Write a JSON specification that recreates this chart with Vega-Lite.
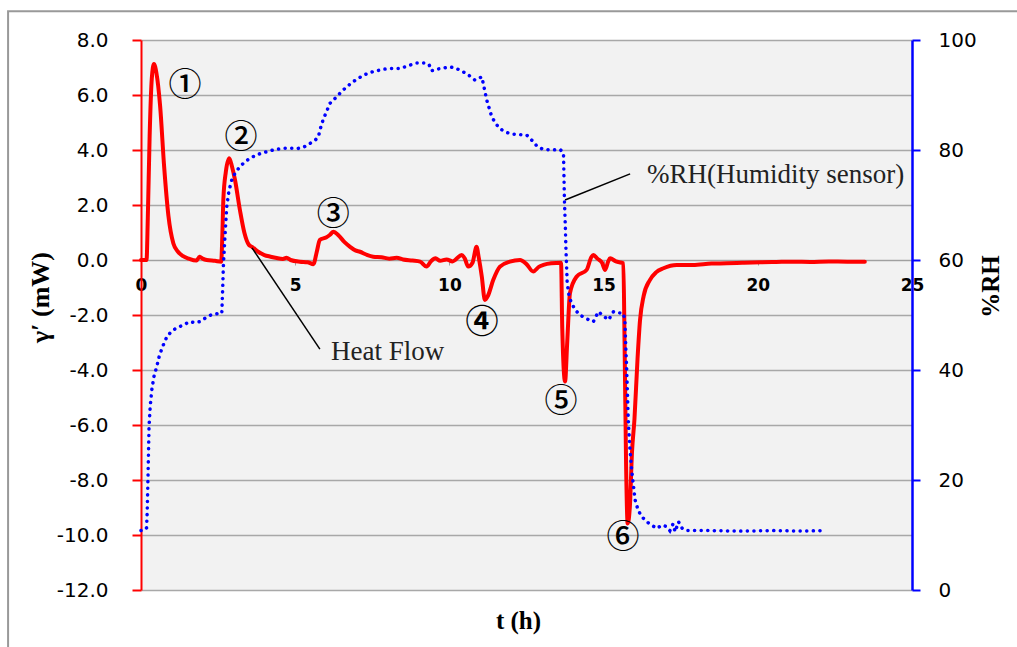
{
  "$schema": "https://vega.github.io/schema/vega-lite/v6.json",
  "width": 771,
  "height": 550,
  "autosize": {"type": "none"},
  "padding": {"left": 141, "top": 40, "right": 105, "bottom": 57},
  "background": "white",
  "config": {
    "view": {"fill": "#f2f2f2", "stroke": null},
    "axis": {"labelColor": "black", "titleColor": "black"}
  },
  "encoding": {
    "x": {
      "field": "t",
      "type": "quantitative",
      "scale": {"domain": [0, 25], "nice": false, "zero": false},
      "axis": {
        "orient": "bottom",
        "offset": -330,
        "values": [0, 5, 10, 15, 20, 25],
        "format": "d",
        "labelFont": "DejaVu Sans",
        "labelFontWeight": "bold",
        "labelFontSize": 17,
        "labelFlush": false,
        "labelOverlap": false,
        "labelPadding": 12,
        "tickSize": 5,
        "tickColor": "#a0a0a0",
        "domainColor": "#a0a0a0",
        "grid": false,
        "title": "t (h)",
        "titleFont": "Liberation Serif",
        "titleFontSize": 25,
        "titleFontWeight": "bold",
        "titleX": 377,
        "titleY": 360,
        "titleAlign": "center",
        "titleBaseline": "middle"
      }
    }
  },
  "layer": [
    {
      "encoding": {
        "y": {
          "field": "v",
          "type": "quantitative",
          "scale": {"domain": [-12, 8], "nice": false, "zero": false},
          "axis": {
            "orient": "left",
            "values": [-12, -10, -8, -6, -4, -2, 0, 2, 4, 6, 8],
            "labelExpr": "replace(format(datum.value, '.1f'), '−', '-')",
            "labelFont": "DejaVu Sans",
            "labelFontSize": 20,
            "labelPadding": 24,
            "tickSize": 9,
            "tickColor": "#ff0000",
            "tickWidth": 2,
            "domainColor": "#ff0000",
            "domainWidth": 2,
            "grid": true,
            "gridColor": "#a8a8a8",
            "gridWidth": 1.5,
            "title": "γ′ (mW)",
            "titleFont": "Liberation Serif",
            "titleFontSize": 26,
            "titleFontWeight": "bold",
            "titleAngle": 270,
            "titleX": -101,
            "titleY": 257,
            "titleAlign": "center",
            "titleBaseline": "middle"
          }
        }
      },
      "layer": [
        {
          "data": {"values": [{"t": -4.31, "t2": 40, "v": -20, "v2": 9.05}]},
          "mark": {"type": "rect", "fill": null, "stroke": "#999999", "strokeWidth": 2, "clip": false},
          "encoding": {"x2": {"field": "t2"}, "y2": {"field": "v2"}}
        },
        {
          "data": {"values": [
            {"t": 0, "v": 0}, {"t": 0.18, "v": 0}, {"t": 0.22, "v": 1.5}, {"t": 0.28, "v": 4.5}, {"t": 0.35, "v": 6.6},
            {"t": 0.42, "v": 7.13}, {"t": 0.5, "v": 6.8}, {"t": 0.62, "v": 5.6}, {"t": 0.75, "v": 3.4}, {"t": 0.89, "v": 1.6},
            {"t": 1.05, "v": 0.6}, {"t": 1.2, "v": 0.3}, {"t": 1.35, "v": 0.15}, {"t": 1.55, "v": 0.05}, {"t": 1.8, "v": -0.02},
            {"t": 1.9, "v": 0.12}, {"t": 2.0, "v": 0.05}, {"t": 2.13, "v": 0}, {"t": 2.4, "v": -0.03}, {"t": 2.6, "v": -0.06},
            {"t": 2.64, "v": 1.0}, {"t": 2.67, "v": 2.2}, {"t": 2.75, "v": 3.2}, {"t": 2.86, "v": 3.7}, {"t": 2.95, "v": 3.4},
            {"t": 3.05, "v": 2.9}, {"t": 3.21, "v": 1.8}, {"t": 3.35, "v": 1.0}, {"t": 3.5, "v": 0.55}, {"t": 3.6, "v": 0.48},
            {"t": 3.8, "v": 0.3}, {"t": 4.0, "v": 0.18}, {"t": 4.2, "v": 0.12}, {"t": 4.4, "v": 0.07}, {"t": 4.6, "v": 0.04},
            {"t": 4.72, "v": 0.08}, {"t": 4.85, "v": 0.0}, {"t": 5.15, "v": -0.06}, {"t": 5.4, "v": -0.08}, {"t": 5.59, "v": -0.15},
            {"t": 5.7, "v": 0.3}, {"t": 5.8, "v": 0.73}, {"t": 6.0, "v": 0.82}, {"t": 6.13, "v": 0.92}, {"t": 6.24, "v": 1.03},
            {"t": 6.4, "v": 0.9}, {"t": 6.6, "v": 0.65}, {"t": 6.78, "v": 0.48}, {"t": 6.95, "v": 0.35}, {"t": 7.1, "v": 0.3},
            {"t": 7.3, "v": 0.2}, {"t": 7.53, "v": 0.12}, {"t": 7.8, "v": 0.1}, {"t": 8.05, "v": 0.05}, {"t": 8.29, "v": 0.08},
            {"t": 8.5, "v": 0.02}, {"t": 8.8, "v": -0.02}, {"t": 9.05, "v": -0.06}, {"t": 9.26, "v": -0.24}, {"t": 9.4, "v": -0.05},
            {"t": 9.55, "v": 0.06}, {"t": 9.7, "v": -0.03}, {"t": 9.91, "v": 0.02}, {"t": 10.1, "v": -0.05}, {"t": 10.4, "v": 0.18},
            {"t": 10.5, "v": 0.05}, {"t": 10.61, "v": -0.24}, {"t": 10.75, "v": -0.1}, {"t": 10.88, "v": 0.48}, {"t": 10.95, "v": 0.1},
            {"t": 11.05, "v": -0.6}, {"t": 11.15, "v": -1.45}, {"t": 11.25, "v": -1.3}, {"t": 11.42, "v": -0.73}, {"t": 11.64, "v": -0.24},
            {"t": 11.96, "v": -0.06}, {"t": 12.29, "v": 0}, {"t": 12.5, "v": -0.15}, {"t": 12.72, "v": -0.42}, {"t": 12.9, "v": -0.25},
            {"t": 13.05, "v": -0.18}, {"t": 13.3, "v": -0.12}, {"t": 13.62, "v": -0.1}, {"t": 13.66, "v": -2.5}, {"t": 13.75, "v": -4.42},
            {"t": 13.82, "v": -3.0}, {"t": 13.91, "v": -1.2}, {"t": 14.13, "v": -0.6}, {"t": 14.45, "v": -0.36}, {"t": 14.6, "v": 0.1},
            {"t": 14.67, "v": 0.18}, {"t": 14.8, "v": 0.05}, {"t": 14.95, "v": -0.1}, {"t": 15.05, "v": -0.36}, {"t": 15.15, "v": -0.05},
            {"t": 15.21, "v": 0.06}, {"t": 15.4, "v": -0.05}, {"t": 15.64, "v": -0.12}, {"t": 15.68, "v": -3.0}, {"t": 15.73, "v": -7.5},
            {"t": 15.78, "v": -9.58}, {"t": 15.85, "v": -9.0}, {"t": 15.92, "v": -7.0}, {"t": 16.0, "v": -5.8}, {"t": 16.1, "v": -3.6},
            {"t": 16.18, "v": -2.2}, {"t": 16.3, "v": -1.3}, {"t": 16.5, "v": -0.73}, {"t": 16.7, "v": -0.45}, {"t": 16.94, "v": -0.3},
            {"t": 17.37, "v": -0.18}, {"t": 17.9, "v": -0.18}, {"t": 18.5, "v": -0.13}, {"t": 18.99, "v": -0.12}, {"t": 19.5, "v": -0.1},
            {"t": 20.1, "v": -0.08}, {"t": 20.6, "v": -0.07}, {"t": 21.15, "v": -0.06}, {"t": 21.7, "v": -0.07}, {"t": 22.3, "v": -0.05},
            {"t": 22.9, "v": -0.06}, {"t": 23.47, "v": -0.06}
          ]},
          "mark": {"type": "line", "color": "#ff0000", "strokeWidth": 4, "strokeJoin": "round", "strokeCap": "round", "interpolate": "monotone"}
        },
        {
          "data": {"values": [
            {"t": 3.6, "v": 0.44, "t2": 5.8, "v2": -3.24},
            {"t": 15.86, "v": 3.13, "t2": 13.75, "v2": 2.18}
          ]},
          "mark": {"type": "rule", "color": "black", "strokeWidth": 1.5},
          "encoding": {"x2": {"field": "t2"}, "y2": {"field": "v2"}}
        },
        {
          "data": {"values": [
            {"t": 1.43, "v": 6.33, "label": "①"},
            {"t": 3.24, "v": 4.44, "label": "②"},
            {"t": 6.23, "v": 1.64, "label": "③"},
            {"t": 13.62, "v": -5.16, "label": "⑤"},
            {"t": 15.63, "v": -10.1, "label": "⑥"}
          ]},
          "mark": {"type": "text", "font": "Noto Sans CJK JP", "fontSize": 33, "fontWeight": 500, "align": "center", "baseline": "middle", "color": "black"},
          "encoding": {"text": {"field": "label"}}
        },
        {
          "data": {"values": [
            {"t": 11.06, "v": -2.29, "label": "④"}
          ]},
          "mark": {"type": "text", "font": "Noto Sans CJK JP", "fontSize": 33, "fontWeight": "bold", "align": "center", "baseline": "middle", "color": "black"},
          "encoding": {"text": {"field": "label"}}
        },
        {
          "data": {"values": [
            {"t": 6.16, "v": -3.35, "label": "Heat Flow"},
            {"t": 16.41, "v": 3.1, "label": "%RH(Humidity  sensor)"}
          ]},
          "mark": {"type": "text", "font": "Liberation Serif", "fontSize": 27, "align": "left", "baseline": "middle", "color": "#222222"},
          "encoding": {"text": {"field": "label"}}
        }
      ]
    },
    {
      "data": {"values": [
        {"t": 0, "rh": 10.8}, {"t": 0.12, "rh": 10.9}, {"t": 0.18, "rh": 11.3}, {"t": 0.2, "rh": 14}, {"t": 0.22, "rh": 18.8},
        {"t": 0.24, "rh": 24}, {"t": 0.26, "rh": 29.7}, {"t": 0.3, "rh": 33.5}, {"t": 0.35, "rh": 36.4}, {"t": 0.42, "rh": 38.8},
        {"t": 0.51, "rh": 40.6}, {"t": 0.6, "rh": 42.7}, {"t": 0.72, "rh": 44.5}, {"t": 0.85, "rh": 46.2}, {"t": 1.05, "rh": 47.3},
        {"t": 1.3, "rh": 48.0}, {"t": 1.59, "rh": 48.8}, {"t": 1.75, "rh": 48.6}, {"t": 1.91, "rh": 48.8}, {"t": 2.1, "rh": 49.5},
        {"t": 2.3, "rh": 50.1}, {"t": 2.56, "rh": 50.3}, {"t": 2.62, "rh": 50.3}, {"t": 2.65, "rh": 55}, {"t": 2.67, "rh": 58.8},
        {"t": 2.72, "rh": 64}, {"t": 2.78, "rh": 69.7}, {"t": 2.85, "rh": 72.5}, {"t": 2.94, "rh": 74.5}, {"t": 3.05, "rh": 75.8},
        {"t": 3.21, "rh": 77}, {"t": 3.4, "rh": 78}, {"t": 3.64, "rh": 78.8}, {"t": 3.85, "rh": 79.3}, {"t": 4.08, "rh": 79.7},
        {"t": 4.35, "rh": 80.1}, {"t": 4.61, "rh": 80.3}, {"t": 4.85, "rh": 80.3}, {"t": 5.1, "rh": 80.3}, {"t": 5.3, "rh": 80.6},
        {"t": 5.48, "rh": 81.2}, {"t": 5.65, "rh": 81.8}, {"t": 5.75, "rh": 82.4}, {"t": 5.8, "rh": 83.5}, {"t": 5.86, "rh": 84.8},
        {"t": 6.0, "rh": 86.8}, {"t": 6.13, "rh": 88.5}, {"t": 6.35, "rh": 89.7}, {"t": 6.5, "rh": 90.6}, {"t": 6.67, "rh": 91.5},
        {"t": 6.9, "rh": 92.5}, {"t": 7.21, "rh": 93.6}, {"t": 7.5, "rh": 94.2}, {"t": 7.86, "rh": 94.7}, {"t": 8.1, "rh": 94.8},
        {"t": 8.4, "rh": 94.8}, {"t": 8.7, "rh": 95.4}, {"t": 8.94, "rh": 95.8}, {"t": 9.26, "rh": 95.8}, {"t": 9.35, "rh": 95.4},
        {"t": 9.42, "rh": 94.4}, {"t": 9.6, "rh": 94.7}, {"t": 10.02, "rh": 95.1}, {"t": 10.2, "rh": 94.9}, {"t": 10.45, "rh": 94.2},
        {"t": 10.65, "rh": 93.5}, {"t": 10.83, "rh": 92.7}, {"t": 11.05, "rh": 93.3}, {"t": 11.12, "rh": 91.5}, {"t": 11.21, "rh": 89.1},
        {"t": 11.37, "rh": 86.1}, {"t": 11.5, "rh": 84.8}, {"t": 11.64, "rh": 83.9}, {"t": 11.8, "rh": 83.3}, {"t": 12.02, "rh": 82.9},
        {"t": 12.3, "rh": 82.8}, {"t": 12.51, "rh": 82.7}, {"t": 12.72, "rh": 81.5}, {"t": 12.85, "rh": 80.6}, {"t": 13.05, "rh": 80.1},
        {"t": 13.35, "rh": 80.0}, {"t": 13.59, "rh": 80.1}, {"t": 13.7, "rh": 79.4}, {"t": 13.73, "rh": 70.9}, {"t": 13.76, "rh": 66},
        {"t": 13.78, "rh": 61.8}, {"t": 13.82, "rh": 55.8}, {"t": 13.88, "rh": 53.5}, {"t": 13.96, "rh": 52.1}, {"t": 14.1, "rh": 50.8},
        {"t": 14.23, "rh": 50}, {"t": 14.45, "rh": 49.3}, {"t": 14.67, "rh": 48.8}, {"t": 14.83, "rh": 50.6}, {"t": 15.0, "rh": 49.8},
        {"t": 15.16, "rh": 49.1}, {"t": 15.32, "rh": 50.6}, {"t": 15.5, "rh": 50.4}, {"t": 15.64, "rh": 50.3}, {"t": 15.69, "rh": 49.1},
        {"t": 15.72, "rh": 44}, {"t": 15.75, "rh": 40}, {"t": 15.8, "rh": 30.9}, {"t": 15.85, "rh": 26}, {"t": 15.91, "rh": 21.8},
        {"t": 16.02, "rh": 16.4}, {"t": 16.12, "rh": 14.5}, {"t": 16.24, "rh": 13.3}, {"t": 16.45, "rh": 12.2}, {"t": 16.72, "rh": 11.2},
        {"t": 16.9, "rh": 11.8}, {"t": 17.05, "rh": 11.5}, {"t": 17.15, "rh": 10.8}, {"t": 17.25, "rh": 12.0}, {"t": 17.32, "rh": 10.6},
        {"t": 17.43, "rh": 12.4}, {"t": 17.55, "rh": 11.2}, {"t": 17.69, "rh": 10.8}, {"t": 18.5, "rh": 10.8}, {"t": 19.5, "rh": 10.7},
        {"t": 20.5, "rh": 10.8}, {"t": 21.5, "rh": 10.7}, {"t": 22.07, "rh": 10.8}
      ]},
      "mark": {"type": "line", "color": "#0000ff", "strokeWidth": 3.5, "strokeDash": [0.1, 6.5], "strokeCap": "round"},
      "encoding": {
        "y": {
          "field": "rh",
          "type": "quantitative",
          "scale": {"domain": [0, 100], "nice": false, "zero": false},
          "axis": {
            "orient": "right",
            "values": [0, 20, 40, 60, 80, 100],
            "format": "d",
            "labelFont": "DejaVu Sans",
            "labelFontSize": 20,
            "labelPadding": 18,
            "tickSize": 8,
            "tickColor": "#0000ff",
            "tickWidth": 2,
            "domainColor": "#0000ff",
            "domainWidth": 2.5,
            "grid": false,
            "title": "%RH",
            "titleFont": "Liberation Serif",
            "titleFontSize": 25,
            "titleFontWeight": "bold",
            "titleAngle": 270,
            "titleX": 78,
            "titleY": 246,
            "titleAlign": "center",
            "titleBaseline": "middle"
          }
        }
      }
    }
  ],
  "resolve": {"scale": {"y": "independent"}}
}
